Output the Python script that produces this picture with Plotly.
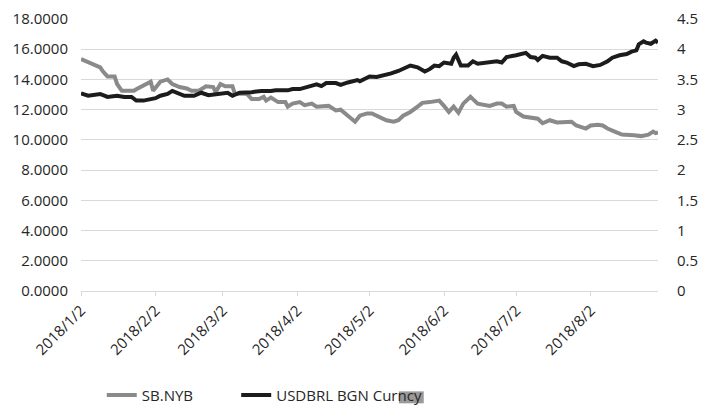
import plotly.graph_objects as go

# ---- data ----
sb_dates = ["2018-01-02","2018-01-06","2018-01-10","2018-01-11","2018-01-13","2018-01-16","2018-01-17","2018-01-19",
            "2018-01-24","2018-01-25","2018-01-29","2018-01-31","2018-02-01","2018-02-04","2018-02-07","2018-02-09",
            "2018-02-12","2018-02-15","2018-02-17","2018-02-20","2018-02-23","2018-02-26","2018-02-27","2018-03-01",
            "2018-03-03","2018-03-06","2018-03-07","2018-03-12","2018-03-14","2018-03-17","2018-03-19","2018-03-20",
            "2018-03-22","2018-03-25","2018-03-28","2018-03-29","2018-03-31","2018-04-03","2018-04-05","2018-04-08",
            "2018-04-10","2018-04-15","2018-04-18","2018-04-20","2018-04-23","2018-04-25","2018-04-26","2018-04-28",
            "2018-05-01","2018-05-03","2018-05-06","2018-05-09","2018-05-12","2018-05-14","2018-05-16","2018-05-19",
            "2018-05-22","2018-05-24","2018-05-27","2018-05-31","2018-06-02","2018-06-04","2018-06-06","2018-06-08",
            "2018-06-10","2018-06-13","2018-06-14","2018-06-16","2018-06-21","2018-06-24","2018-06-26","2018-06-28",
            "2018-07-01","2018-07-02","2018-07-05","2018-07-08","2018-07-11","2018-07-13","2018-07-16","2018-07-19",
            "2018-07-23","2018-07-25","2018-07-27","2018-07-31","2018-08-02","2018-08-05","2018-08-07","2018-08-09",
            "2018-08-12","2018-08-15","2018-08-20","2018-08-23","2018-08-26","2018-08-28","2018-08-29","2018-08-30"]
sb_values = [15.35,15.1,14.8,14.55,14.2,14.2,13.7,13.25,
             13.25,13.35,13.7,13.85,13.25,13.85,14.0,13.7,
             13.5,13.4,13.25,13.25,13.55,13.5,13.15,13.7,
             13.55,13.55,13.05,13.05,12.7,12.7,12.85,12.6,
             12.8,12.5,12.5,12.2,12.4,12.5,12.3,12.4,
             12.2,12.25,11.95,12.0,11.6,11.3,11.2,11.6,
             11.75,11.75,11.55,11.3,11.2,11.3,11.6,11.85,
             12.2,12.45,12.5,12.6,12.25,11.85,12.2,11.8,
             12.4,12.85,12.7,12.4,12.25,12.4,12.4,12.2,
             12.25,11.85,11.55,11.45,11.4,11.1,11.3,11.15,
             11.2,11.2,10.95,10.75,10.95,11.0,10.95,10.75,
             10.55,10.35,10.3,10.25,10.35,10.55,10.45,10.5]

brl_dates = ["2018-01-02","2018-01-05","2018-01-10","2018-01-13","2018-01-17","2018-01-20","2018-01-23","2018-01-25",
             "2018-01-28","2018-01-31","2018-02-02","2018-02-04","2018-02-07","2018-02-09","2018-02-11","2018-02-14",
             "2018-02-18","2018-02-21","2018-02-24","2018-02-27","2018-03-04","2018-03-06","2018-03-09","2018-03-14",
             "2018-03-18","2018-03-22","2018-03-24","2018-03-29","2018-03-31","2018-04-03","2018-04-06","2018-04-10",
             "2018-04-12","2018-04-14","2018-04-18","2018-04-20","2018-04-23","2018-04-27","2018-04-28","2018-05-02",
             "2018-05-05","2018-05-09","2018-05-11","2018-05-14","2018-05-16","2018-05-19","2018-05-22","2018-05-24",
             "2018-05-25","2018-05-27","2018-05-29","2018-05-31","2018-06-02","2018-06-05","2018-06-06","2018-06-07",
             "2018-06-09","2018-06-12","2018-06-14","2018-06-16","2018-06-20","2018-06-24","2018-06-26","2018-06-28",
             "2018-07-02","2018-07-05","2018-07-06","2018-07-08","2018-07-10","2018-07-11","2018-07-13","2018-07-16",
             "2018-07-19","2018-07-21","2018-07-23","2018-07-26","2018-07-28","2018-07-31","2018-08-03","2018-08-06",
             "2018-08-09","2018-08-11","2018-08-14","2018-08-17","2018-08-19","2018-08-21","2018-08-22","2018-08-24",
             "2018-08-25","2018-08-27","2018-08-29","2018-08-30"]
brl_values = [3.27,3.23,3.26,3.21,3.23,3.21,3.21,3.15,
              3.15,3.18,3.19,3.23,3.26,3.31,3.28,3.23,
              3.23,3.28,3.24,3.26,3.28,3.23,3.28,3.29,
              3.31,3.31,3.32,3.32,3.34,3.34,3.37,3.42,
              3.39,3.44,3.44,3.41,3.45,3.49,3.47,3.55,
              3.54,3.57,3.60,3.64,3.67,3.73,3.70,3.64,
              3.63,3.67,3.73,3.72,3.78,3.76,3.86,3.91,
              3.73,3.73,3.80,3.76,3.78,3.80,3.78,3.87,
              3.90,3.93,3.94,3.87,3.86,3.82,3.89,3.86,
              3.86,3.80,3.78,3.72,3.75,3.76,3.72,3.74,
              3.80,3.86,3.90,3.92,3.96,3.98,4.08,4.13,
              4.11,4.09,4.14,4.11]

tick_dates = ["2018-01-02","2018-02-02","2018-03-02","2018-04-02","2018-05-02",
              "2018-06-02","2018-07-02","2018-08-02"]
tick_labels = ["2018/1/2","2018/2/2","2018/3/2","2018/4/2","2018/5/2",
               "2018/6/2","2018/7/2","2018/8/2"]

FONT = "Open Sans"
TXT = "#262626"
FS = 15

fig = go.Figure()
fig.add_trace(go.Scatter(x=sb_dates, y=sb_values, name="SB.NYB", mode="lines",
                         line=dict(color="#8a8a8a", width=4), legend="legend"))
fig.add_trace(go.Scatter(x=brl_dates, y=brl_values, name="USDBRL BGN Curncy", mode="lines",
                         line=dict(color="#1c1c1c", width=4), yaxis="y2", legend="legend2"))

# grey highlight box seen behind the end of the second legend label
fig.add_shape(type="rect", xref="paper", yref="paper",
              x0=0.551, x1=0.594, y0=-0.413, y1=-0.369,
              fillcolor="#9a9a9a", line=dict(width=0), layer="below")

leg_common = dict(orientation="h", xanchor="left", yanchor="middle", y=-0.383,
                  font=dict(family=FONT, size=FS, color=TXT), bgcolor="rgba(0,0,0,0)")

# the page body adds an 8px offset, so the figure is 8px smaller and margins compensate
fig.update_layout(
    width=701, height=402,
    margin=dict(l=73, r=51, t=11, b=119, autoexpand=False),
    paper_bgcolor="white", plot_bgcolor="white",
    font=dict(family=FONT, size=FS, color=TXT),
    showlegend=True,
    legend=dict(x=0.036, **leg_common),
    legend2=dict(x=0.269, **leg_common),
    xaxis=dict(type="date", range=["2018-01-02", "2018-08-30"], automargin=False,
               tickvals=tick_dates, ticktext=tick_labels, tickangle=-45,
               showgrid=False, showline=True, linecolor="#d9d9d9", linewidth=1,
               ticks="outside", ticklen=4, tickcolor="#d9d9d9",
               tickfont=dict(family=FONT, size=FS, color=TXT), zeroline=False),
    yaxis=dict(range=[0, 18], dtick=2, tickformat=".4f", showgrid=True, automargin=False,
               gridcolor="#d9d9d9", gridwidth=1, zeroline=False, showline=False,
               ticklabeloverflow="allow",
               ticklabelstandoff=12, tickfont=dict(family=FONT, size=FS, color=TXT)),
    yaxis2=dict(range=[0, 4.5], dtick=0.5, overlaying="y", side="right", automargin=False,
                showgrid=False, zeroline=False, showline=False,
                ticklabeloverflow="allow",
                ticklabelstandoff=18, tickfont=dict(family=FONT, size=FS, color=TXT)),
)

fig.write_html("out.html")
